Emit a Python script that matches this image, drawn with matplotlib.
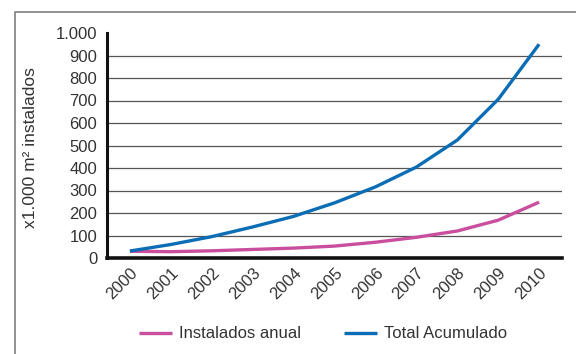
import matplotlib
matplotlib.use("Agg")
from matplotlib import pyplot as plt
from matplotlib.lines import Line2D

plt.rcParams['font.family'] = ['Liberation Sans', 'DejaVu Sans']

years = ['2000', '2001', '2002', '2003', '2004', '2005',
         '2006', '2007', '2008', '2009', '2010']
anual = [30, 28, 32, 38, 44, 53, 70, 92, 120, 168, 248]
acumulado = [31, 60, 95, 138, 185, 245, 316, 404, 524, 705, 950]
yticks = [0, 100, 200, 300, 400, 500, 600, 700, 800, 900, 1000]
ytick_labels = ['0', '100', '200', '300', '400', '500', '600', '700', '800', '900', '1.000']

pink = '#c94f9e'
blue = '#0b6db5'
txt = '#333333'

fig = plt.figure(figsize=(5.76, 3.54), dpi=100)
ax = fig.add_axes([107/576, 1 - 258/354, (562 - 107)/576, (258 - 33)/354])

x = list(range(len(years)))
ax.plot(x, anual, color=pink, lw=2.4, solid_capstyle='butt', label='Instalados anual', zorder=3)
ax.plot(x, acumulado, color=blue, lw=2.4, solid_capstyle='butt', label='Total Acumulado', zorder=3)

ax.set_xlim(-0.56, 10.56)
ax.set_ylim(0, 1000)
for v in yticks[1:-1]:
    ax.axhline(v, color='#555555', lw=0.9, zorder=1)

ax.set_yticks(yticks)
ax.set_yticklabels(ytick_labels, fontsize=12, color=txt)
ax.set_xticks(x)
ax.set_xticklabels(years, fontsize=12, color=txt, rotation=45,
                   ha='right', va='top', rotation_mode='anchor')
ax.tick_params(length=0)
ax.tick_params(axis='y', pad=7)
ax.tick_params(axis='x', pad=5)

for s in ['top', 'right']:
    ax.spines[s].set_visible(False)
ax.spines['left'].set_linewidth(2.2)
ax.spines['bottom'].set_linewidth(2.6)
ax.spines['left'].set_color('#111111')
ax.spines['bottom'].set_color('#111111')

fig.text(31/576, 1 - 148/354, 'x1.000 m² instalados', rotation=90,
         ha='center', va='center', fontsize=12.5, color=txt)

fig.legend(loc='center', bbox_to_anchor=(323/576, 1 - 334/354), ncol=2,
           frameon=False, fontsize=12, handlelength=2.0, columnspacing=2.6,
           handletextpad=0.4, labelcolor=txt)

# outer frame (left and top edges)
fig.add_artist(Line2D([15/576, 15/576, 1], [0, 1 - 12/354, 1 - 12/354],
                      transform=fig.transFigure, color='#888888', lw=1.3))

fig.savefig('out.png', dpi=100)
plt.close()
